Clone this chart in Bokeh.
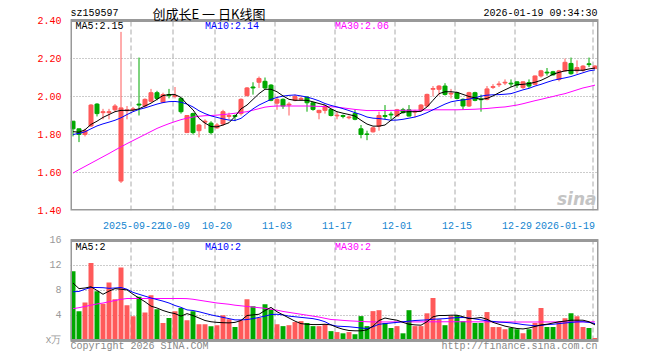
import numpy as np
from bokeh.plotting import figure
from bokeh.layouts import column
from bokeh.models import Range1d, FixedTicker, Label, NumeralTickFormatter, ColumnDataSource
from bokeh.embed import file_html
from bokeh.resources import INLINE

# ---------------- data ----------------
open_ = [1.87, 1.83, 1.80, 1.845, 1.96, 1.915, 1.915, 1.93, 1.555, 1.925,
         1.93, 1.96, 1.95, 1.975, 2.02, 1.97, 2.01, 2.00, 1.99, 1.81,
         1.91, 1.82, 1.865, 1.86, 1.835, 1.855, 1.895, 1.90, 1.91, 2.005,
         2.05, 2.075, 2.08, 2.06, 1.965, 1.985, 1.955, 1.98, 1.985, 1.997,
         1.967, 1.915, 1.927, 1.932, 1.898, 1.90, 1.888, 1.91, 1.83, 1.803,
         1.814, 1.844, 1.90, 1.907, 1.897, 1.93, 1.93, 1.918, 1.927, 1.95,
         2.038, 2.038, 2.055, 2.013, 2.02, 1.985, 1.95, 2.02, 1.987, 1.985,
         2.048, 2.062, 2.071, 2.07, 2.077, 2.047, 2.073, 2.064, 2.108, 2.128,
         2.13, 2.09, 2.135, 2.174, 2.135, 2.138, 2.172, 2.147]
high = [1.87, 1.83, 1.83, 1.96, 1.965, 1.935, 1.935, 1.96, 2.34, 1.95,
        1.945, 2.205, 1.99, 2.04, 2.03, 2.02, 2.04, 2.05, 1.995, 1.90,
        1.915, 1.855, 1.88, 1.87, 1.86, 1.93, 1.915, 1.905, 1.99, 2.05,
        2.075, 2.105, 2.10, 2.065, 2.0, 1.99, 1.97, 2.01, 2.0, 2.0,
        1.97, 1.93, 1.955, 1.935, 1.92, 1.905, 1.90, 1.93, 1.85, 1.82,
        1.84, 1.92, 1.955, 1.92, 1.935, 1.94, 1.955, 1.93, 1.96, 2.015,
        2.055, 2.06, 2.07, 2.04, 2.025, 1.99, 2.025, 2.025, 2.01, 2.055,
        2.065, 2.08, 2.09, 2.09, 2.08, 2.08, 2.09, 2.11, 2.14, 2.15,
        2.135, 2.14, 2.20, 2.205, 2.19, 2.165, 2.205, 2.165]
low = [1.79, 1.76, 1.79, 1.84, 1.895, 1.88, 1.88, 1.92, 1.545, 1.88,
       1.92, 1.90, 1.94, 1.97, 1.98, 1.965, 1.99, 1.99, 1.91, 1.81,
       1.80, 1.785, 1.83, 1.80, 1.83, 1.845, 1.88, 1.87, 1.90, 2.0,
       2.01, 2.045, 2.04, 1.975, 1.93, 1.935, 1.90, 1.975, 1.98, 1.92,
       1.925, 1.88, 1.91, 1.895, 1.88, 1.885, 1.88, 1.875, 1.78, 1.77,
       1.81, 1.82, 1.88, 1.88, 1.895, 1.91, 1.895, 1.89, 1.92, 1.945,
       2.0, 2.005, 2.005, 1.99, 1.985, 1.93, 1.945, 1.975, 1.92, 1.98,
       2.04, 2.05, 2.06, 2.05, 2.045, 2.04, 2.045, 2.06, 2.10, 2.11,
       2.11, 2.08, 2.13, 2.115, 2.12, 2.13, 2.155, 2.145]
close = [1.83, 1.80, 1.82, 1.955, 1.91, 1.92, 1.92, 1.95, 1.94, 1.93,
         1.935, 1.955, 1.985, 2.02, 1.99, 2.01, 2.005, 2.005, 1.92, 1.90,
         1.81, 1.85, 1.87, 1.81, 1.85, 1.92, 1.90, 1.895, 1.985, 2.045,
         2.045, 2.095, 2.045, 1.98, 1.985, 1.95, 1.96, 2.0, 1.99, 1.967,
         1.932, 1.927, 1.95, 1.90, 1.902, 1.895, 1.892, 1.88, 1.80, 1.80,
         1.835, 1.90, 1.895, 1.903, 1.93, 1.915, 1.897, 1.922, 1.955, 2.011,
         2.042, 2.055, 2.011, 2.017, 1.99, 1.95, 2.02, 1.98, 1.983, 2.04,
         2.052, 2.066, 2.075, 2.066, 2.06, 2.077, 2.055, 2.108, 2.135, 2.124,
         2.114, 2.135, 2.18, 2.12, 2.152, 2.16, 2.168, 2.16]
volume = [11.1, 4.7, 6.1, 12.4, 7.9, 5.9, 9.3, 6.6, 11.7, 5.65,
          3.9, 7.0, 4.5, 7.25, 5.0, 2.8, 3.6, 4.7, 5.2, 3.25,
          4.7, 2.6, 2.6, 2.3, 2.45, 4.05, 3.4, 2.15, 3.25, 6.6,
          5.5, 3.6, 5.8, 5.0, 2.6, 2.3, 2.45, 2.95, 3.1, 2.8,
          2.3, 2.3, 2.6, 1.5, 1.35, 1.15, 1.35, 1.0, 3.9, 2.3,
          4.7, 4.85, 2.8, 2.0, 2.3, 1.15, 4.85, 2.3, 2.3, 4.35,
          6.8, 3.4, 2.45, 3.9, 4.05, 3.1, 4.85, 2.8, 2.8, 4.55,
          2.15, 2.15, 1.8, 2.0, 1.8, 1.15, 1.8, 2.8, 5.2, 2.15,
          2.15, 2.95, 3.55, 4.35, 3.9, 2.15, 2.0, 0.4]
ma5 = [1.815, 1.812, 1.825, 1.853, 1.87, 1.89, 1.905, 1.92, 1.927, 1.927,
       1.928, 1.935, 1.95, 1.965, 1.985, 2.005, 2.01, 2.01, 1.995, 1.96,
       1.93, 1.885, 1.86, 1.842, 1.84, 1.85, 1.862, 1.895, 1.935, 1.955,
       1.985, 2.015, 2.038, 2.038, 2.025, 2.003, 1.985, 1.98, 1.98, 1.98,
       1.972, 1.963, 1.955, 1.935, 1.92, 1.912, 1.905, 1.897, 1.875, 1.855,
       1.844, 1.844, 1.85, 1.875, 1.90, 1.918, 1.92, 1.92, 1.922, 1.945,
       1.98, 2.015, 2.025, 2.025, 2.022, 2.011, 2.0, 1.993, 1.985, 1.99,
       2.003, 2.02, 2.035, 2.05, 2.062, 2.064, 2.068, 2.075, 2.085, 2.10,
       2.117, 2.127, 2.135, 2.138, 2.138, 2.138, 2.145, 2.15]
ma10 = [1.80, 1.806, 1.814, 1.83, 1.845, 1.856, 1.865, 1.875, 1.888, 1.905,
        1.92, 1.932, 1.94, 1.95, 1.96, 1.968, 1.973, 1.974, 1.97, 1.96,
        1.945, 1.925, 1.91, 1.898, 1.89, 1.882, 1.876, 1.874, 1.885, 1.91,
        1.935, 1.955, 1.97, 1.985, 1.995, 2.002, 2.006, 2.008, 2.003, 1.997,
        1.988, 1.977, 1.963, 1.953, 1.945, 1.936, 1.926, 1.915, 1.905, 1.892,
        1.886, 1.884, 1.88, 1.875, 1.876, 1.88, 1.886, 1.892, 1.902, 1.915,
        1.93, 1.945, 1.96, 1.972, 1.978, 1.982, 1.986, 1.993, 2.002, 2.007,
        2.009, 2.01, 2.012, 2.015, 2.025, 2.035, 2.043, 2.055, 2.064, 2.075,
        2.085, 2.092, 2.098, 2.105, 2.115, 2.125, 2.135, 2.14]
ma30 = [1.597, 1.615, 1.632, 1.649, 1.666, 1.683, 1.70, 1.718, 1.735, 1.752,
        1.768, 1.784, 1.80, 1.816, 1.832, 1.845, 1.857, 1.868, 1.878, 1.886,
        1.892, 1.896, 1.899, 1.90, 1.902, 1.905, 1.908, 1.912, 1.916, 1.92,
        1.928, 1.936, 1.944, 1.948, 1.95, 1.95, 1.95, 1.95, 1.95, 1.95,
        1.949, 1.948, 1.947, 1.946, 1.944, 1.94, 1.936, 1.932, 1.929, 1.926,
        1.926, 1.926, 1.926, 1.927, 1.927, 1.927, 1.928, 1.928, 1.928, 1.929,
        1.93, 1.93, 1.93, 1.93, 1.93, 1.931, 1.932, 1.933, 1.935, 1.937,
        1.94, 1.943, 1.945, 1.95, 1.955, 1.962, 1.97, 1.978, 1.985, 1.993,
        2.0, 2.008, 2.015, 2.025, 2.035, 2.045, 2.052, 2.06]
vma5 = [9.2, 8.3, 8.4, 8.6, 8.0, 7.4, 7.9, 8.3, 8.2, 8.1,
        7.4, 6.8, 6.2, 5.5, 5.2, 4.8, 4.5, 4.3, 3.9, 4.3,
        4.0, 3.6, 3.2, 3.0, 2.9, 2.85, 2.82, 2.9, 3.2, 4.0,
        4.1, 4.2, 4.8, 5.3, 4.6, 4.1, 3.6, 3.1, 2.7, 2.6,
        2.55, 2.55, 2.6, 2.5, 2.1, 1.8, 1.6, 1.55, 1.55, 1.7,
        2.3, 3.2, 3.6, 3.4, 3.25, 2.9, 2.6, 2.5, 2.45, 3.0,
        3.8, 4.0, 4.0, 4.05, 4.05, 3.8, 3.5, 3.55, 3.68, 3.4,
        2.9, 2.6, 2.3, 2.1, 1.92, 1.85, 2.0, 2.25, 2.5, 2.6,
        2.8, 3.0, 3.1, 3.25, 3.25, 3.25, 3.0, 2.5]
vma10 = [7.8, 7.85, 8.2, 8.48, 8.48, 8.45, 8.35, 8.4, 8.48, 8.2,
         7.7, 7.4, 7.1, 6.8, 6.55, 6.3, 6.0, 5.6, 5.3, 4.9,
         4.8, 4.6, 4.35, 4.1, 3.9, 3.7, 3.5, 3.3, 3.3, 3.35,
         3.5, 3.7, 3.9, 4.15, 4.2, 4.1, 3.9, 3.8, 3.7, 3.6,
         3.5, 3.3, 3.0, 2.5, 2.3, 2.25, 2.2, 2.1, 2.0, 1.92,
         2.2, 2.6, 2.7, 2.8, 2.9, 3.0, 3.1, 3.2, 3.25, 3.3,
         3.4, 3.45, 3.5, 3.6, 3.65, 3.68, 3.6, 3.45, 3.3, 3.15,
         3.05, 2.95, 2.9, 2.82, 2.7, 2.55, 2.45, 2.35, 2.4, 2.55,
         2.6, 2.7, 2.8, 2.9, 2.98, 3.0, 2.9, 2.7]
vma30 = [5.1, 5.25, 5.45, 5.65, 5.85, 6.0, 6.2, 6.4, 6.6, 6.72,
         6.72, 6.72, 6.72, 6.72, 6.72, 6.72, 6.72, 6.72, 6.72, 6.7,
         6.6, 6.45, 6.3, 6.15, 6.0, 5.9, 5.8, 5.65, 5.55, 5.45,
         5.35, 5.25, 5.15, 5.0, 4.85, 4.65, 4.5, 4.35, 4.2, 4.05,
         3.9, 3.75, 3.55, 3.36, 3.3, 3.22, 3.15, 3.1, 3.05, 3.0,
         2.98, 2.97, 2.97, 2.97, 2.98, 2.98, 2.98, 2.98, 2.98, 2.99,
         2.99, 2.99, 3.0, 3.0, 3.0, 3.0, 2.99, 2.99, 2.98, 2.98,
         2.98, 2.97, 2.97, 2.97, 2.96, 2.96, 2.96, 2.96, 2.97, 2.97,
         2.97, 2.98, 2.98, 2.98, 2.98, 2.98, 2.98, 2.98]

grid_idx = [10, 17, 24, 34, 44, 54, 64, 74, 87]          # candles carrying a date line
label_idx = [10, 17, 24, 34, 44, 54, 64, 74, 82]         # where each date text is centred
label_txt = ["2025-09-22", "10-09", "10-20", "11-03", "11-17", "12-01", "12-15", "12-29", "2026-01-19"]
price_ticks = [1.40, 1.60, 1.80, 2.00, 2.20, 2.40]
vol_ticks = [0, 4, 8, 12, 16]
vol_tick_labels = {0: "x万", 4: "4", 8: "8", 12: "12", 16: "16"}

RED = "#ff5a5a"
GREEN = "#00a800"
BORDER = "#999999"
MONO = "Liberation Mono"

n = len(close)
x = np.arange(n)
colors = [RED if c >= o else GREEN for o, c in zip(open_, close)]
src = ColumnDataSource(dict(
    x=x, o=open_, h=high, l=low, c=close, v=volume,
    top=np.maximum(open_, close), bot=np.minimum(open_, close), col=colors,
))

grid_pos = [i - 1 / 3 for i in grid_idx]
xr = Range1d(-0.417, n - 0.417)


def base_style(p):
    p.outline_line_color = None
    p.background_fill_color = "white"
    p.border_fill_color = "white"
    p.grid.visible = False
    for ax in p.yaxis:
        ax.axis_line_color = None
        ax.major_tick_line_color = None
        ax.minor_tick_line_color = None
        ax.major_label_text_font = MONO
        ax.major_label_text_font_size = "10px"
        ax.major_label_standoff = 3


def panel_grid(p, ylo, yhi, hticks):
    # dashed date lines, dotted value lines, and the panel border
    p.segment(x0=grid_pos, y0=[ylo] * len(grid_pos), x1=grid_pos, y1=[yhi] * len(grid_pos),
              line_color="#aaaaaa", line_dash="5 3", line_width=1)
    p.segment(x0=[xr.start] * len(hticks), y0=hticks, x1=[xr.end] * len(hticks), y1=hticks,
              line_color="#999999", line_dash="1 2", line_width=1)


def border(p, ylo, yhi):
    p.quad(left=[xr.start], right=[xr.end], bottom=[ylo], top=[yhi],
           fill_color=None, line_color=BORDER, line_width=3)


def screen_label(p, x_, y_, txt, color="black", align="left", size="10px", font=MONO, style="normal"):
    p.add_layout(Label(x=x_, y=y_, x_units="screen", y_units="screen", text=txt,
                       text_align=align, text_baseline="middle", text_color=color,
                       text_font=font, text_font_size=size, text_font_style=style))


# ---------------- main (price) panel ----------------
# frame covers the header row as well; the price box is 1.40..2.40
p1 = figure(width=652, height=234, x_range=xr, y_range=Range1d(1.40, 2.40 + 20 / 190),
            output_backend="svg", toolbar_location=None,
            min_border_left=70, min_border_right=54, min_border_top=0, min_border_bottom=24)
base_style(p1)
p1.yaxis.ticker = FixedTicker(ticks=price_ticks)
p1.yaxis.formatter = NumeralTickFormatter(format="0.00")
p1.yaxis.major_label_text_color = "#ff0000"

p1.xaxis.ticker = FixedTicker(ticks=label_idx)
p1.xaxis.major_label_overrides = {i: t for i, t in zip(label_idx, label_txt)}
p1.xaxis.axis_line_color = None
p1.xaxis.major_tick_line_color = None
p1.xaxis.minor_tick_line_color = None
p1.xaxis.major_label_text_color = "#1585d0"
p1.xaxis.major_label_text_font = MONO
p1.xaxis.major_label_text_font_size = "10px"
p1.xaxis.major_label_standoff = 5

panel_grid(p1, price_ticks[0], price_ticks[-1], price_ticks[1:-1])

p1.segment(x0="x", y0="l", x1="x", y1="h", color="col", line_width=1, source=src)
p1.vbar(x="x", width=0.67, top="top", bottom="bot", fill_color="col", line_color="col",
        line_width=1, source=src)
p1.line(x, ma30, color="#ff00ff", line_width=1)
p1.line(x, ma10, color="#0000ff", line_width=1)
p1.line(x, ma5, color="#000000", line_width=1)
border(p1, price_ticks[0], price_ticks[-1])

screen_label(p1, 0, 197, "sz159597")
screen_label(p1, 82, 197.5, "创成长E 一 日K线图", size="13px", font="Noto Sans CJK SC")
screen_label(p1, 527, 197, "2026-01-19 09:34:30", align="right")
screen_label(p1, 5, 184, f"MA5:{ma5[-1]:.2f}", color="#000000")
screen_label(p1, 134.5, 184, f"MA10:{ma10[-1]:.2f}", color="#0000ff")
screen_label(p1, 264.5, 184, f"MA30:{ma30[-1]:.2f}", color="#ff00ff")
screen_label(p1, 526, 12, "sina", color="#c4c4c4", align="right", size="17px",
             font="DejaVu Sans", style="bold italic")

# ---------------- volume panel ----------------
# frame covers the footer row as well; the volume box is 0..16
p2 = figure(width=652, height=118, x_range=xr, y_range=Range1d(-12 * 16 / 100, 16 + 6 * 16 / 100),
            output_backend="svg", toolbar_location=None,
            min_border_left=70, min_border_right=54, min_border_top=0, min_border_bottom=0)
base_style(p2)
p2.xaxis.visible = False
p2.yaxis.ticker = FixedTicker(ticks=vol_ticks)
p2.yaxis.major_label_overrides = vol_tick_labels
p2.yaxis.major_label_text_color = "#999999"

panel_grid(p2, vol_ticks[0], vol_ticks[-1], vol_ticks[1:-1])
p2.vbar(x="x", width=0.83, top="v", bottom=0, fill_color="col", line_color=None, source=src)
p2.line(x, vma30, color="#ff00ff", line_width=1)
p2.line(x, vma10, color="#0000ff", line_width=1)
p2.line(x, vma5, color="#000000", line_width=1)
border(p2, vol_ticks[0], vol_ticks[-1])

screen_label(p2, 5, 105.5, f"MA5:{int(vma5[-1])}", color="#000000")
screen_label(p2, 134.5, 105.5, f"MA10:{int(vma10[-1])}", color="#0000ff")
screen_label(p2, 264.5, 105.5, f"MA30:{int(vma30[-1])}", color="#ff00ff")
screen_label(p2, 0, 6, "Copyright 2026 SINA.COM", color="#888888")
screen_label(p2, 527, 6, "http://finance.sina.com.cn", color="#888888", align="right")

layout = column(p1, p2, spacing=0)
open("out.html", "w").write(file_html(layout, INLINE, title="chart"))
